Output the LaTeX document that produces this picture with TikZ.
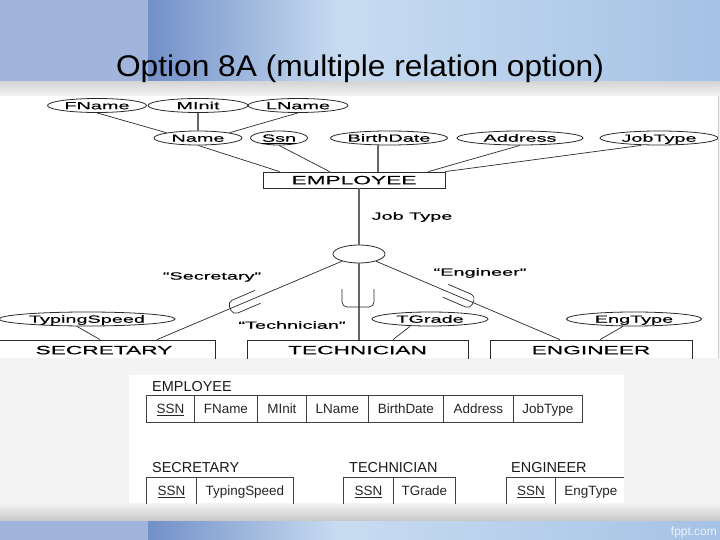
\documentclass[tikz,border=0pt]{standalone}
\usepackage{fontspec}
\setmainfont{Liberation Sans}
\newfontfamily\erfont[FakeStretch=1.9, FakeBold=0.3]{Liberation Sans}
\newfontfamily\titlefont[FakeStretch=1.06]{Liberation Sans}
\usetikzlibrary{shapes.geometric, calc}
\definecolor{slideblue}{HTML}{7290C8}
\definecolor{slidelight}{HTML}{C8DCF1}
\definecolor{slidemid}{HTML}{A5C2E5}
\definecolor{slidelav}{HTML}{A0B4DC}
\definecolor{bandgray}{HTML}{D6D6D6}
\definecolor{panelgray}{HTML}{F3F3F3}
\definecolor{linegray}{HTML}{2A2A2A}

\begin{document}
\begin{tikzpicture}[x=1bp, y=-1bp,
    attr/.style={ellipse, draw=linegray, line width=0.8pt, inner sep=0pt, minimum height=14bp,
                 text height=7.5pt, text depth=0pt, font=\erfont\fontsize{10.5}{12}\selectfont},
    entity/.style={rectangle, draw=linegray, line width=0.8pt, inner sep=0pt,
                   text height=8.5pt, text depth=0pt, font=\erfont\fontsize{12}{14}\selectfont},
    erlabel/.style={inner sep=0pt, font=\erfont\fontsize{10.5}{12}\selectfont},
    ln/.style={draw=linegray, line width=0.7pt},
    vln/.style={draw=black!60, line width=1.4pt},
    cell/.style={rectangle, draw=black!75, line width=0.8pt, anchor=west, inner sep=0pt,
                 minimum height=27bp, text height=9.7pt, text depth=0pt,
                 text=black!85, font=\fontsize{13.5}{16}\selectfont},
    tbltitle/.style={anchor=base west, inner sep=0pt, text=black!90, font=\fontsize{14.5}{17}\selectfont},
    pics/subsetsym/.style args={#1/#2}{code={
        \draw[ln, rounded corners=5pt] (#2,-#1) -- (-6,-#1) -- (-6,#1) -- (#2,#1);}},
]
    \useasboundingbox (0,0) rectangle (720,540);

    % ── Slide background ──
    \fill[panelgray] (0,0) rectangle (720,540);
    \fill[slidelav] (0,0) rectangle (720,82);
    \shade[left color=slideblue, right color=slidelight] (148,0) rectangle (340,82);
    \shade[left color=slidelight, right color=slidemid] (340,0) rectangle (720,82);
    \shade[top color=bandgray, bottom color=panelgray] (0,82) rectangle (720,96);
    \shade[top color=panelgray, bottom color=black!22] (0,503) rectangle (720,521);
    \fill[slidelav] (0,521) rectangle (720,540);
    \shade[left color=slideblue, right color=slidelight] (148,521) rectangle (340,540);
    \shade[left color=slidelight, right color=slidemid] (340,521) rectangle (720,540);

    \node[anchor=base, inner sep=0pt, font=\titlefont\fontsize{30}{36}\selectfont] (title)
        at (360,77) {Option 8A (multiple relation option)};
    \node[anchor=base east, inner sep=0pt, text=white!80!slidemid, font=\fontsize{12}{14}\selectfont] (fppt)
        at (717,535) {fppt.com};

    % ── EER diagram ──
    \fill[white] (0,96) rectangle (718,358);
    \draw[black!20] (718,96) -- (718,358);
    \begin{scope}
    \clip (0,96) rectangle (718,358);

    \node[attr, minimum width=99bp]  (fname)   at (97,105.5)  {FName};
    \node[attr, minimum width=100bp] (minit)   at (198,105.5) {MInit};
    \node[attr, minimum width=100bp] (lname)   at (298,105.5) {LName};
    \node[attr, minimum width=88bp]  (name)    at (198,138)   {Name};
    \node[attr, minimum width=57bp]  (ssn)     at (279,138)   {\underline{Ssn}};
    \node[attr, minimum width=117bp] (bdate)   at (389,138)   {BirthDate};
    \node[attr, minimum width=126bp] (addr)    at (520,138)   {Address};
    \node[attr, minimum width=118bp] (jobtype) at (659,138)   {JobType};

    \node[entity, minimum width=182bp, minimum height=16bp] (emp) at (354,180) {EMPLOYEE};

    \draw[ln]  (fname.south) -- (name.north west);
    \draw[vln] (minit.south) -- (name.north);
    \draw[ln]  (lname.south) -- (name.north east);
    \draw[ln]  (name.south) -- ([xshift=17bp]emp.north west);
    \draw[ln]  (ssn.south) -- ([xshift=67bp]emp.north west);
    \draw[vln] ([xshift=-11bp]bdate.south) -- ([xshift=-11bp]bdate.south |- emp.north);
    \draw[ln]  (addr.south) -- ([xshift=-17bp]emp.north east);
    \draw[ln]  ([xshift=-18bp]jobtype.south) -- (emp.north east);

    % specialization circle
    \node[ellipse, draw=linegray, line width=0.8pt, minimum width=52bp, minimum height=18bp, inner sep=0pt]
        (circ) at (359,254) {};
    \node[erlabel] (jt) at (412,217) {Job Type};
    \draw[vln] (circ.north) -- (circ.north |- emp.south);

    \node[entity, minimum width=222bp, minimum height=20bp] (sec)  at (104,350)   {SECRETARY};
    \node[entity, minimum width=221bp, minimum height=20bp] (tech) at (357.5,350) {TECHNICIAN};
    \node[entity, minimum width=202bp, minimum height=20bp] (eng)  at (591,350)   {ENGINEER};

    \draw[ln]  (circ) -- ([xshift=53bp]sec.north);
    \draw[vln] (circ.south) -- (circ.south |- tech.north);
    \draw[ln]  (circ) -- ([xshift=-31bp]eng.north);

    % subset marks
    \coordinate (secmark) at ($(circ)!0.61!([xshift=53bp]sec.north)$);
    \coordinate (engmark) at ($(circ)!0.54!([xshift=-31bp]eng.north)$);
    \pic[rotate=23.1] at (secmark) {subsetsym=7/24};
    \pic[rotate=90] at (358,301) {subsetsym=16/12};
    \pic[rotate=156.8] at (engmark) {subsetsym=7/24};

    \node[erlabel] (lsec)  at (212,277) {“Secretary”};
    \node[erlabel] (ltech) at (292,325) {“Technician”};
    \node[erlabel] (leng)  at (480,273) {“Engineer”};

    \node[attr, minimum width=176bp] (typing)  at (87,319)  {TypingSpeed};
    \node[attr, minimum width=116bp] (tgrade)  at (430,319) {TGrade};
    \node[attr, minimum width=135bp] (engtype) at (634,319) {EngType};

    \draw[ln] ([xshift=-10bp]typing.south) -- ([xshift=-4bp]sec.north);
    \draw[ln] ([xshift=-20bp]tgrade.south) -- ([xshift=35.5bp]tech.north);
    \draw[ln] ([xshift=-11bp]engtype.south) -- ([xshift=9bp]eng.north);
    \end{scope}

    % ── Relation schemas ──
    \fill[white] (129,375) rectangle (624,503);
    \begin{scope}
    \clip (129,375) rectangle (624,503);

    \node[tbltitle] (temp)  at (152,391) {EMPLOYEE};
    \foreach \t/\xa/\xb [count=\i] in {{\underline{SSN}}/146/194, FName/194/257, MInit/257/306,
            LName/306/368, BirthDate/368/443, Address/443/513, JobType/513/582}
        \node[cell, minimum width={(\xb-\xa)*1bp}] (empcell\i) at (\xa,408.5) {\t};

    \node[tbltitle] (tsec)  at (152,472) {SECRETARY};
    \node[tbltitle] (ttech) at (349,472) {TECHNICIAN};
    \node[tbltitle] (teng)  at (511,472) {ENGINEER};
    \foreach \t/\xa/\xb [count=\i] in {{\underline{SSN}}/146/196, TypingSpeed/196/293,
            {\underline{SSN}}/343/393, TGrade/393/455,
            {\underline{SSN}}/506/555, EngType/555/626}
        \node[cell, minimum width={(\xb-\xa)*1bp}] (subcell\i) at (\xa,490.5) {\t};
    \end{scope}
\end{tikzpicture}
\end{document}
